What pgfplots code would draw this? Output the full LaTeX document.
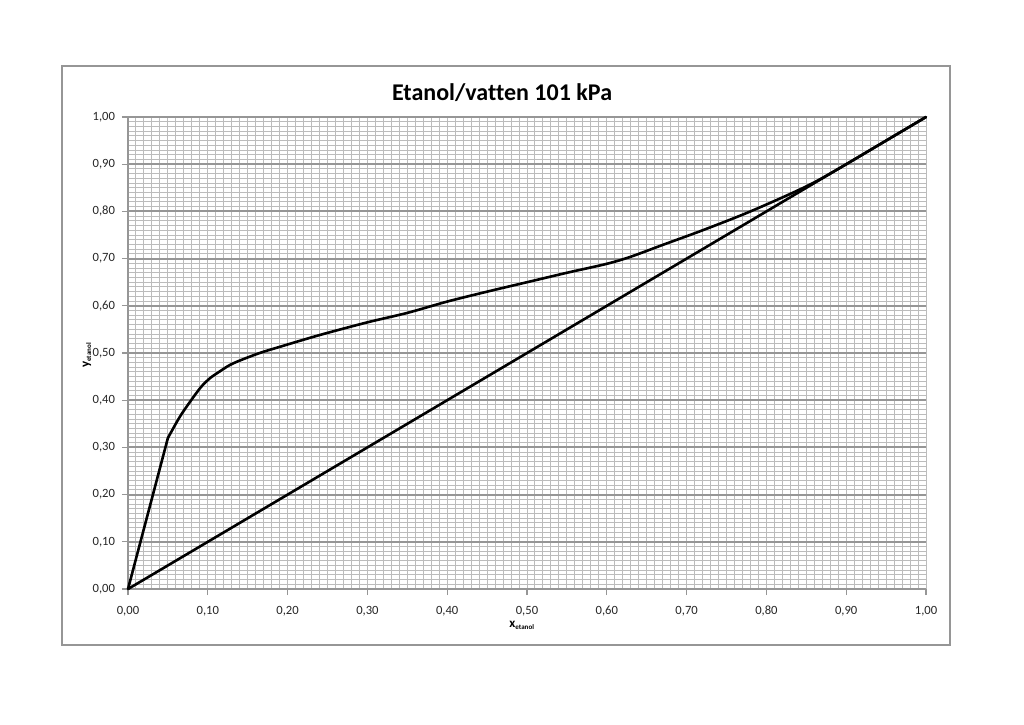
\documentclass[border=0pt]{standalone}
\usepackage{fontspec}
\setmainfont{Carlito}[Ligatures=NoCommon]
\usepackage{pgfplots}
\pgfplotsset{compat=1.18}
\definecolor{minorgrid}{RGB}{188,188,188}
\definecolor{majorgrid}{RGB}{150,150,150}
\definecolor{framegray}{RGB}{150,150,150}
\begin{document}
\begin{tikzpicture}
\begin{axis}[
  scale only axis, width=399pt, height=236pt,
  xmin=0, xmax=1, ymin=0, ymax=1,
  xtick={0,0.1,0.2,0.3,0.4,0.5,0.6,0.7,0.8,0.9,1},
  ytick={0,0.1,0.2,0.3,0.4,0.5,0.6,0.7,0.8,0.9,1},
  minor x tick num=9, minor y tick num=9,
  grid=both,
  minor grid style={minorgrid, line width=0.5pt},
  major grid style={minorgrid, line width=0.5pt},
  axis x line*=bottom, axis y line*=left,
  axis line style={majorgrid, line width=0.8pt, -},
  tick align=outside, major tick length=3pt, minor tick length=0pt,
  tick style={majorgrid, line width=0.6pt},
  /pgf/number format/.cd, fixed, fixed zerofill, precision=2, use comma, assume math mode=true,
  /pgfplots/.cd,
  tick label style={font=\fontsize{6.3}{7}\selectfont, text=black!85},
  xticklabel style={yshift=-2pt},
  xlabel={\textbf{x\textsubscript{\fontsize{3.5}{4}\selectfont etanol}}},
  ylabel={\textbf{y\textsubscript{\fontsize{3.5}{4}\selectfont etanol}}},
  label style={font=\fontsize{6.5}{7}\selectfont},
  xlabel style={at={(rel axis cs:0.494,-0.076)}, anchor=center},
  ylabel style={at={(rel axis cs:-0.0514,0.496)}, anchor=center, rotate=0},
  clip=false,
]
\path[draw=none] (rel axis cs:-0.1604,-0.2860) rectangle (rel axis cs:1.1228,1.2479);
\draw[framegray, line width=0.8pt] (rel axis cs:-0.0827,-0.1186) rectangle (rel axis cs:1.0301,1.1081);
\pgfplotsinvokeforeach{0.1,0.2,0.3,0.4,0.5,0.6,0.7,0.8,0.9,1}{
  \draw[majorgrid, line width=1.0pt] (axis cs:0,#1) -- (axis cs:1,#1);
}
\node[font=\bfseries\fontsize{12}{14}\selectfont] at (rel axis cs:0.4687,1.052) {Etanol/vatten 101 kPa};
\addplot[black, line width=1.3pt, line cap=round] coordinates {(0,0) (0.05,0.32)};
\addplot[black, line width=1.3pt, line cap=round, smooth, tension=0.5] coordinates {
(0.05,0.32) (0.065,0.365) (0.08,0.402) (0.092,0.429) (0.103,0.447) (0.115,0.461) (0.127,0.474) (0.14,0.484)
(0.165,0.500) (0.19,0.513) (0.24,0.538) (0.30,0.565) (0.35,0.585) (0.40,0.609) (0.45,0.630) (0.50,0.650) (0.55,0.670)
(0.60,0.689) (0.63,0.704) (0.67,0.729) (0.72,0.760) (0.78,0.800) (0.85,0.853) (0.894,0.894) (0.95,0.95) (1,1)
};
\addplot[black, line width=1.3pt] coordinates {(0,0) (1,1)};
\end{axis}
\end{tikzpicture}
\end{document}
